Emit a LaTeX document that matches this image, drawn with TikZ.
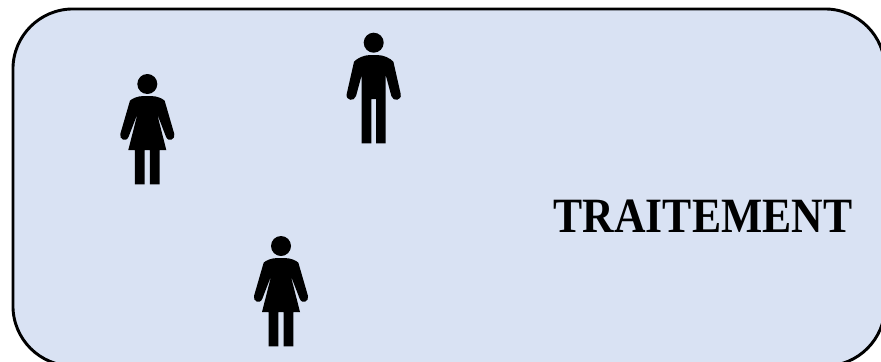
\documentclass[tikz,border=0pt]{standalone}
\usepackage{fontspec}
\setmainfont{Liberation Serif}
\definecolor{panelfill}{HTML}{D9E2F3}
\tikzset{
  panel/.style={draw=black,line width=2.2pt,fill=panelfill,rounded corners=45pt},
  woman/.pic={
    \fill[black] (0,-24) circle (10);
    \fill[black,scale=1/3] (-10,-108)
      .. controls (-30,-108) and (-46,-116) .. (-52,-122)
      -- (-81,-222) .. controls (-85,-238) and (-63,-248) .. (-56,-230)
      -- (-29,-160) -- (-57,-270) -- (-37,-270) -- (-37,-373) -- (-8,-373) -- (-8,-270)
      -- (8,-270) -- (8,-373) -- (37,-373) -- (37,-270) -- (57,-270) -- (29,-160)
      -- (56,-230) .. controls (63,-248) and (85,-238) .. (81,-222)
      -- (52,-122) .. controls (46,-116) and (30,-108) .. (10,-108) -- cycle;
  },
  man/.pic={
    \fill[black] (0,-22.7) circle (10);
    \fill[black,scale=1/3] (-10,-105)
      .. controls (-30,-105) and (-50,-115) .. (-59,-125)
      -- (-81,-222) .. controls (-85,-242) and (-58,-246) .. (-53,-228)
      -- (-36,-165) -- (-36,-370) -- (-7,-370) -- (-7,-237)
      -- (7,-237) -- (7,-370) -- (36,-370) -- (36,-165)
      -- (53,-228) .. controls (58,-246) and (85,-242) .. (81,-222)
      -- (59,-125) .. controls (50,-115) and (30,-105) .. (10,-105) -- cycle;
  },
  title/.style={font=\bfseries\fontsize{37}{37}\selectfont,inner sep=0pt,text=black}
}
\begin{document}
\begin{tikzpicture}[x=0.75pt,y=-0.75pt]
\useasboundingbox (0,0) rectangle (881,361);
\begin{scope}
\clip (0,0) rectangle (881,361);
\node[panel,minimum width=654pt,minimum height=267.75pt,anchor=north west,inner sep=0pt] (box) at (11.5,7.5) {};
\end{scope}
\pic[yscale=-1] at (147.3,60) {woman};
\pic[yscale=-1] at (373.7,20) {man};
\pic[yscale=-1] at (281,222) {woman};
\node[title,xscale=0.885] (t) at (703,216.5) {TRAITEMENT};
\end{tikzpicture}
\end{document}
